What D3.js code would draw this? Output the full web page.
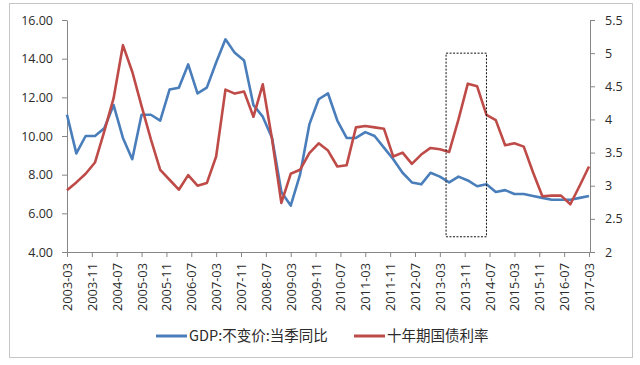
<!DOCTYPE html>
<html><head><meta charset="utf-8">
<script src="https://cdn.jsdelivr.net/npm/d3@7"></script>
<style>body{margin:0;background:#fff}svg{display:block}</style>
</head><body><svg id="c" width="640" height="365"></svg>
<script>
const quarters = ["2003-03","2003-06","2003-09","2003-12","2004-03","2004-06","2004-09","2004-12",
"2005-03","2005-06","2005-09","2005-12","2006-03","2006-06","2006-09","2006-12",
"2007-03","2007-06","2007-09","2007-12","2008-03","2008-06","2008-09","2008-12",
"2009-03","2009-06","2009-09","2009-12","2010-03","2010-06","2010-09","2010-12",
"2011-03","2011-06","2011-09","2011-12","2012-03","2012-06","2012-09","2012-12",
"2013-03","2013-06","2013-09","2013-12","2014-03","2014-06","2014-09","2014-12",
"2015-03","2015-06","2015-09","2015-12","2016-03","2016-06","2016-09","2016-12","2017-03"];
const gdp = [11.1,9.1,10.0,10.0, 10.4,11.6,9.9,8.8, 11.1,11.1,10.8,12.4, 12.5,13.7,12.2,12.5,
13.8,15.0,14.3,13.9, 11.6,11.0,9.9,7.1, 6.4,8.0,10.6,11.9, 12.2,10.8,9.9,9.9,
10.2,10.0,9.4,8.8, 8.1,7.6,7.5,8.1, 7.9,7.6,7.9,7.7, 7.4,7.5,7.1,7.2,
7.0,7.0,6.9,6.8, 6.7,6.7,6.7,6.8, 6.9];
const bond = [2.93,3.05,3.18,3.35, 3.82,4.32,5.12,4.72, 4.2,3.7,3.24,3.09, 2.94,3.16,3.0,3.04,
3.44,4.45,4.39,4.42, 4.04,4.53,3.7,2.74, 3.18,3.24,3.49,3.64, 3.53,3.29,3.31,3.88,
3.9,3.88,3.86,3.44, 3.5,3.33,3.47,3.57, 3.55,3.51,4.0,4.54, 4.5,4.07,3.99,3.61,
3.64,3.59,3.2,2.84, 2.85,2.85,2.72,3.0, 3.29];
const tickLabels = ["2003-03","2003-11","2004-07","2005-03","2005-11","2006-07","2007-03","2007-11",
"2008-07","2009-03","2009-11","2010-07","2011-03","2011-11","2012-07","2013-03","2013-11",
"2014-07","2015-03","2015-11","2016-07","2017-03"];
const leftTicks = [4,6,8,10,12,14,16];
const rightTicks = [2,2.5,3,3.5,4,4.5,5,5.5];
const seriesNames = ["GDP:不变价:当季同比","十年期国债利率"];
const seriesColors = ["#4a7ebb","#be4b48"];
const highlightRange = ["2013-05","2014-06"];
const highlightValues = [2.23,5.0];

const monthIndex = s => (+s.slice(0,4) - 2003) * 12 + (+s.slice(5,7) - 3);
const svg = d3.select("#c");
const L = 67, R = 589, T = 20, B = 252;
const x = d3.scaleLinear().domain([0, monthIndex("2017-03")]).range([L, R]);
const yL = d3.scaleLinear().domain([4,16]).range([B, T]);
const yR = d3.scaleLinear().domain([2,5.5]).range([B, T]);
const font = "'Open Sans', sans-serif";
const axisColor = "#868686", textColor = "#2b2b2b";

svg.append("rect").attr("x",9.5).attr("y",3.5).attr("width",623).attr("height",354)
  .attr("fill","#fff").attr("stroke","#c6c6c6");

function style(g){
  g.select(".domain").attr("stroke",axisColor);
  g.selectAll(".tick line").attr("stroke",axisColor);
  g.selectAll(".tick text").attr("fill",textColor).style("font-family",font);
}
const gl = svg.append("g").attr("transform",`translate(${L},0)`)
  .call(d3.axisLeft(yL).tickValues(leftTicks).tickFormat(d3.format(".2f")).tickSize(5).tickSizeOuter(0).tickPadding(9));
style(gl); gl.selectAll(".tick text").style("font-size","12.5px");
const gr = svg.append("g").attr("transform",`translate(${R+1},0)`)
  .call(d3.axisRight(yR).tickValues(rightTicks).tickFormat(d => String(d)).tickSize(5).tickSizeOuter(0).tickPadding(10));
style(gr); gr.selectAll(".tick text").style("font-size","12.5px");
const gx = svg.append("g").attr("transform",`translate(0,${B})`)
  .call(d3.axisBottom(x).tickValues(tickLabels.map(monthIndex)).tickFormat((d,i) => tickLabels[i]).tickSize(5).tickSizeOuter(0));
style(gx);
gx.selectAll(".tick text").attr("transform","rotate(-90)").attr("x",-11).attr("y",0)
  .attr("dy","0.35em").attr("text-anchor","end").style("font-size","12.8px");

const seriesData = [gdp, bond];
const scales = [yL, yR];
seriesData.forEach((vals, s) => {
  const line = d3.line().x((d,i) => x(monthIndex(quarters[i]))).y(d => scales[s](d));
  svg.append("path").datum(vals).attr("d", line).attr("fill","none")
    .attr("stroke", seriesColors[s]).attr("stroke-width",2.6).attr("stroke-linejoin","round");
});

// highlight box
const hx0 = x(monthIndex(highlightRange[0])), hx1 = x(monthIndex(highlightRange[1]));
svg.append("rect").attr("x",hx0).attr("y",yR(highlightValues[1]))
  .attr("width",hx1-hx0).attr("height",yR(highlightValues[0])-yR(highlightValues[1]))
  .attr("fill","none").attr("stroke","#111").attr("stroke-width",1).attr("stroke-dasharray","2,1.5");

// legend
const legendX = [156, 354];
seriesNames.forEach((n, i) => {
  const g = svg.append("g").attr("transform",`translate(${legendX[i]},336)`);
  g.append("line").attr("x1",0).attr("x2",31).attr("stroke",seriesColors[i]).attr("stroke-width",3);
  g.append("text").attr("x",33).attr("dy","0.35em").text(n).attr("fill",textColor)
    .style("font-family","'Noto Sans CJK SC', sans-serif").style("font-size","14.5px");
});
</script></body></html>
